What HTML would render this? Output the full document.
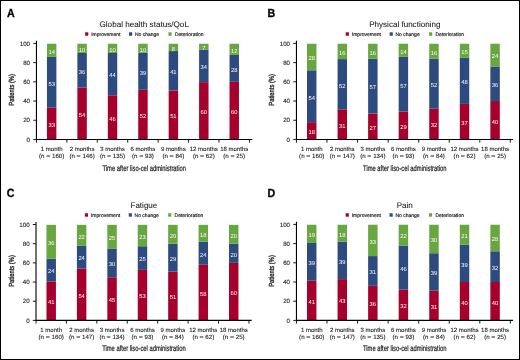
<!DOCTYPE html>
<html><head><meta charset="utf-8"><style>
html,body{margin:0;padding:0;background:#fff;}
body{width:520px;height:360px;overflow:hidden;}
svg{display:block;}
text{font-family:"Liberation Sans",sans-serif;fill:#1a1a1a;text-rendering:geometricPrecision;}
.let{font-size:11.8px;font-weight:bold;fill:#000;stroke:#000;stroke-width:0.3px;}
.ttl{font-size:8.05px;stroke:#1a1a1a;stroke-width:0.08px;}
.leg{font-size:5px;stroke:#1a1a1a;stroke-width:0.16px;}
.val{font-size:5.8px;fill:#fff;}
.xl{font-size:6px;stroke:#1a1a1a;stroke-width:0.1px;}
.xn{font-size:6.15px;}
.yl{font-size:6.2px;stroke:#1a1a1a;stroke-width:0.1px;}
.xt{font-size:8.1px;stroke:#1a1a1a;stroke-width:0.22px;}
.yt{font-size:7.4px;stroke:#1a1a1a;stroke-width:0.3px;}
</style></head><body>
<svg width="520" height="360" viewBox="0 0 520 360">
<rect x="0" y="0" width="520" height="360" fill="#fff"/>
<g style="filter:blur(0.3px)">
<text x="7.10" y="16.70" class="let" textLength="7.7" lengthAdjust="spacingAndGlyphs">A</text>
<text x="144.20" y="26.55" class="ttl" text-anchor="middle" textLength="89.4" lengthAdjust="spacingAndGlyphs">Global health status/QoL</text>
<rect x="85.15" y="32.30" width="3.15" height="3.45" fill="#a6002c"/>
<text x="91.20" y="35.95" class="leg">Improvement</text>
<rect x="129.05" y="32.30" width="3.15" height="3.45" fill="#2e4b7f"/>
<text x="134.90" y="35.95" class="leg">No change</text>
<rect x="168.45" y="32.30" width="3.15" height="3.45" fill="#68a640"/>
<text x="174.90" y="35.95" class="leg">Deterioration</text>
<rect x="46.94" y="107.75" width="9.45" height="31.70" fill="#a6002c"/>
<rect x="46.94" y="56.85" width="9.45" height="50.91" fill="#2e4b7f"/>
<rect x="46.94" y="43.75" width="9.45" height="13.10" fill="#68a640"/>
<text x="51.67" y="126.90" class="val" text-anchor="middle">33</text>
<text x="51.67" y="85.60" class="val" text-anchor="middle">53</text>
<text x="51.67" y="53.60" class="val" text-anchor="middle">14</text>
<text x="51.67" y="150.95" class="xl" text-anchor="middle">1 month</text>
<text x="51.67" y="157.95" class="xl xn" text-anchor="middle">(n <tspan textLength="4.1" lengthAdjust="spacingAndGlyphs">=</tspan> 160)</text>
<rect x="77.37" y="87.58" width="9.45" height="51.87" fill="#a6002c"/>
<rect x="77.37" y="53.00" width="9.45" height="34.58" fill="#2e4b7f"/>
<rect x="77.37" y="43.75" width="9.45" height="9.25" fill="#68a640"/>
<text x="82.09" y="116.82" class="val" text-anchor="middle">54</text>
<text x="82.09" y="73.59" class="val" text-anchor="middle">36</text>
<text x="82.09" y="51.68" class="val" text-anchor="middle">10</text>
<text x="82.09" y="150.95" class="xl" text-anchor="middle">2 months</text>
<text x="82.09" y="157.95" class="xl xn" text-anchor="middle">(n <tspan textLength="4.1" lengthAdjust="spacingAndGlyphs">=</tspan> 146)</text>
<rect x="107.80" y="95.27" width="9.45" height="44.18" fill="#a6002c"/>
<rect x="107.80" y="53.00" width="9.45" height="42.26" fill="#2e4b7f"/>
<rect x="107.80" y="43.75" width="9.45" height="9.25" fill="#68a640"/>
<text x="112.53" y="120.66" class="val" text-anchor="middle">46</text>
<text x="112.53" y="77.44" class="val" text-anchor="middle">44</text>
<text x="112.53" y="51.68" class="val" text-anchor="middle">10</text>
<text x="112.53" y="150.95" class="xl" text-anchor="middle">3 months</text>
<text x="112.53" y="157.95" class="xl xn" text-anchor="middle">(n <tspan textLength="4.1" lengthAdjust="spacingAndGlyphs">=</tspan> 135)</text>
<rect x="138.23" y="89.82" width="9.45" height="49.63" fill="#a6002c"/>
<rect x="138.23" y="52.68" width="9.45" height="37.14" fill="#2e4b7f"/>
<rect x="138.23" y="43.75" width="9.45" height="8.93" fill="#68a640"/>
<text x="142.95" y="117.94" class="val" text-anchor="middle">52</text>
<text x="142.95" y="74.55" class="val" text-anchor="middle">39</text>
<text x="142.95" y="51.52" class="val" text-anchor="middle">10</text>
<text x="142.95" y="150.95" class="xl" text-anchor="middle">6 months</text>
<text x="142.95" y="157.95" class="xl xn" text-anchor="middle">(n <tspan textLength="4.1" lengthAdjust="spacingAndGlyphs">=</tspan> 93)</text>
<rect x="168.66" y="90.46" width="9.45" height="48.99" fill="#a6002c"/>
<rect x="168.66" y="51.08" width="9.45" height="39.38" fill="#2e4b7f"/>
<rect x="168.66" y="43.75" width="9.45" height="7.33" fill="#68a640"/>
<text x="173.38" y="118.26" class="val" text-anchor="middle">51</text>
<text x="173.38" y="74.07" class="val" text-anchor="middle">41</text>
<text x="173.38" y="50.72" class="val" text-anchor="middle">8</text>
<text x="173.38" y="150.95" class="xl" text-anchor="middle">9 months</text>
<text x="173.38" y="157.95" class="xl xn" text-anchor="middle">(n <tspan textLength="4.1" lengthAdjust="spacingAndGlyphs">=</tspan> 84)</text>
<rect x="199.09" y="82.14" width="9.45" height="57.31" fill="#a6002c"/>
<rect x="199.09" y="49.80" width="9.45" height="32.34" fill="#2e4b7f"/>
<rect x="199.09" y="43.75" width="9.45" height="6.05" fill="#68a640"/>
<text x="203.81" y="114.10" class="val" text-anchor="middle">60</text>
<text x="203.81" y="69.27" class="val" text-anchor="middle">34</text>
<text x="203.81" y="50.08" class="val" text-anchor="middle">7</text>
<text x="203.81" y="150.95" class="xl" text-anchor="middle">12 months</text>
<text x="203.81" y="157.95" class="xl xn" text-anchor="middle">(n <tspan textLength="4.1" lengthAdjust="spacingAndGlyphs">=</tspan> 62)</text>
<rect x="229.52" y="81.82" width="9.45" height="57.63" fill="#a6002c"/>
<rect x="229.52" y="54.93" width="9.45" height="26.89" fill="#2e4b7f"/>
<rect x="229.52" y="43.75" width="9.45" height="11.18" fill="#68a640"/>
<text x="234.25" y="113.93" class="val" text-anchor="middle">60</text>
<text x="234.25" y="71.67" class="val" text-anchor="middle">28</text>
<text x="234.25" y="52.64" class="val" text-anchor="middle">12</text>
<text x="234.25" y="150.95" class="xl" text-anchor="middle">18 months</text>
<text x="234.25" y="157.95" class="xl xn" text-anchor="middle">(n <tspan textLength="4.1" lengthAdjust="spacingAndGlyphs">=</tspan> 25)</text>
<path d="M36.45 40.80 V139.95 M35.95 139.45 H252.16" stroke="#000" stroke-width="1.1" fill="none"/>
<text x="30.05" y="141.65" class="yl" text-anchor="end">0</text>
<text x="30.05" y="122.44" class="yl" text-anchor="end">20</text>
<text x="30.05" y="103.23" class="yl" text-anchor="end">40</text>
<text x="30.05" y="84.02" class="yl" text-anchor="end">60</text>
<text x="30.05" y="64.81" class="yl" text-anchor="end">80</text>
<text x="30.05" y="45.60" class="yl" text-anchor="end">100</text>
<path d="M33.25 139.45 H36.45 M33.25 120.24 H36.45 M33.25 101.03 H36.45 M33.25 81.82 H36.45 M33.25 62.61 H36.45 M33.25 43.40 H36.45 M36.45 139.45 V142.65 M66.88 139.45 V142.65 M97.31 139.45 V142.65 M127.74 139.45 V142.65 M158.17 139.45 V142.65 M188.60 139.45 V142.65 M219.03 139.45 V142.65 M249.46 139.45 V142.65" stroke="#000" stroke-width="0.9" fill="none"/>
<text x="144.20" y="170.75" class="xt" text-anchor="middle" textLength="83.5" lengthAdjust="spacingAndGlyphs">Time after liso-cel administration</text>
<text transform="translate(13.70 89.85) rotate(-90)" class="yt" text-anchor="middle" textLength="31.6" lengthAdjust="spacingAndGlyphs">Patients (%)</text>
<text x="267.50" y="16.70" class="let" textLength="7.7" lengthAdjust="spacingAndGlyphs">B</text>
<text x="404.80" y="26.55" class="ttl" text-anchor="middle">Physical functioning</text>
<rect x="345.75" y="32.30" width="3.15" height="3.45" fill="#a6002c"/>
<text x="351.80" y="35.95" class="leg">Improvement</text>
<rect x="389.65" y="32.30" width="3.15" height="3.45" fill="#2e4b7f"/>
<text x="395.50" y="35.95" class="leg">No change</text>
<rect x="429.05" y="32.30" width="3.15" height="3.45" fill="#68a640"/>
<text x="435.50" y="35.95" class="leg">Deterioration</text>
<rect x="307.00" y="122.16" width="9.45" height="17.29" fill="#a6002c"/>
<rect x="307.00" y="70.29" width="9.45" height="51.87" fill="#2e4b7f"/>
<rect x="307.00" y="43.75" width="9.45" height="26.54" fill="#68a640"/>
<text x="311.73" y="134.11" class="val" text-anchor="middle">18</text>
<text x="311.73" y="99.53" class="val" text-anchor="middle">54</text>
<text x="311.73" y="60.32" class="val" text-anchor="middle">28</text>
<text x="311.73" y="150.95" class="xl" text-anchor="middle">1 month</text>
<text x="311.73" y="157.95" class="xl xn" text-anchor="middle">(n <tspan textLength="4.1" lengthAdjust="spacingAndGlyphs">=</tspan> 160)</text>
<rect x="337.56" y="109.35" width="9.45" height="30.10" fill="#a6002c"/>
<rect x="337.56" y="59.09" width="9.45" height="50.27" fill="#2e4b7f"/>
<rect x="337.56" y="43.75" width="9.45" height="15.34" fill="#68a640"/>
<text x="342.29" y="127.70" class="val" text-anchor="middle">31</text>
<text x="342.29" y="87.52" class="val" text-anchor="middle">52</text>
<text x="342.29" y="54.72" class="val" text-anchor="middle">16</text>
<text x="342.29" y="150.95" class="xl" text-anchor="middle">2 months</text>
<text x="342.29" y="157.95" class="xl xn" text-anchor="middle">(n <tspan textLength="4.1" lengthAdjust="spacingAndGlyphs">=</tspan> 147)</text>
<rect x="368.12" y="113.52" width="9.45" height="25.93" fill="#a6002c"/>
<rect x="368.12" y="58.77" width="9.45" height="54.75" fill="#2e4b7f"/>
<rect x="368.12" y="43.75" width="9.45" height="15.02" fill="#68a640"/>
<text x="372.85" y="129.78" class="val" text-anchor="middle">27</text>
<text x="372.85" y="89.44" class="val" text-anchor="middle">57</text>
<text x="372.85" y="54.56" class="val" text-anchor="middle">16</text>
<text x="372.85" y="150.95" class="xl" text-anchor="middle">3 months</text>
<text x="372.85" y="157.95" class="xl xn" text-anchor="middle">(n <tspan textLength="4.1" lengthAdjust="spacingAndGlyphs">=</tspan> 134)</text>
<rect x="398.68" y="111.60" width="9.45" height="27.85" fill="#a6002c"/>
<rect x="398.68" y="56.85" width="9.45" height="54.75" fill="#2e4b7f"/>
<rect x="398.68" y="43.75" width="9.45" height="13.10" fill="#68a640"/>
<text x="403.41" y="128.82" class="val" text-anchor="middle">29</text>
<text x="403.41" y="87.52" class="val" text-anchor="middle">57</text>
<text x="403.41" y="53.60" class="val" text-anchor="middle">14</text>
<text x="403.41" y="150.95" class="xl" text-anchor="middle">6 months</text>
<text x="403.41" y="157.95" class="xl xn" text-anchor="middle">(n <tspan textLength="4.1" lengthAdjust="spacingAndGlyphs">=</tspan> 93)</text>
<rect x="429.24" y="108.71" width="9.45" height="30.74" fill="#a6002c"/>
<rect x="429.24" y="58.77" width="9.45" height="49.95" fill="#2e4b7f"/>
<rect x="429.24" y="43.75" width="9.45" height="15.02" fill="#68a640"/>
<text x="433.97" y="127.38" class="val" text-anchor="middle">32</text>
<text x="433.97" y="87.04" class="val" text-anchor="middle">52</text>
<text x="433.97" y="54.56" class="val" text-anchor="middle">16</text>
<text x="433.97" y="150.95" class="xl" text-anchor="middle">9 months</text>
<text x="433.97" y="157.95" class="xl xn" text-anchor="middle">(n <tspan textLength="4.1" lengthAdjust="spacingAndGlyphs">=</tspan> 84)</text>
<rect x="459.80" y="103.91" width="9.45" height="35.54" fill="#a6002c"/>
<rect x="459.80" y="57.81" width="9.45" height="46.10" fill="#2e4b7f"/>
<rect x="459.80" y="43.75" width="9.45" height="14.06" fill="#68a640"/>
<text x="464.53" y="124.98" class="val" text-anchor="middle">37</text>
<text x="464.53" y="84.16" class="val" text-anchor="middle">48</text>
<text x="464.53" y="54.08" class="val" text-anchor="middle">15</text>
<text x="464.53" y="150.95" class="xl" text-anchor="middle">12 months</text>
<text x="464.53" y="157.95" class="xl xn" text-anchor="middle">(n <tspan textLength="4.1" lengthAdjust="spacingAndGlyphs">=</tspan> 62)</text>
<rect x="490.36" y="101.03" width="9.45" height="38.42" fill="#a6002c"/>
<rect x="490.36" y="66.45" width="9.45" height="34.58" fill="#2e4b7f"/>
<rect x="490.36" y="43.75" width="9.45" height="22.70" fill="#68a640"/>
<text x="495.09" y="123.54" class="val" text-anchor="middle">40</text>
<text x="495.09" y="87.04" class="val" text-anchor="middle">36</text>
<text x="495.09" y="58.40" class="val" text-anchor="middle">24</text>
<text x="495.09" y="150.95" class="xl" text-anchor="middle">18 months</text>
<text x="495.09" y="157.95" class="xl xn" text-anchor="middle">(n <tspan textLength="4.1" lengthAdjust="spacingAndGlyphs">=</tspan> 25)</text>
<path d="M296.45 40.80 V139.95 M295.95 139.45 H513.07" stroke="#000" stroke-width="1.1" fill="none"/>
<text x="290.05" y="141.65" class="yl" text-anchor="end">0</text>
<text x="290.05" y="122.44" class="yl" text-anchor="end">20</text>
<text x="290.05" y="103.23" class="yl" text-anchor="end">40</text>
<text x="290.05" y="84.02" class="yl" text-anchor="end">60</text>
<text x="290.05" y="64.81" class="yl" text-anchor="end">80</text>
<text x="290.05" y="45.60" class="yl" text-anchor="end">100</text>
<path d="M293.25 139.45 H296.45 M293.25 120.24 H296.45 M293.25 101.03 H296.45 M293.25 81.82 H296.45 M293.25 62.61 H296.45 M293.25 43.40 H296.45 M296.45 139.45 V142.65 M327.01 139.45 V142.65 M357.57 139.45 V142.65 M388.13 139.45 V142.65 M418.69 139.45 V142.65 M449.25 139.45 V142.65 M479.81 139.45 V142.65 M510.37 139.45 V142.65" stroke="#000" stroke-width="0.9" fill="none"/>
<text x="404.80" y="170.70" class="xt" text-anchor="middle" textLength="83.5" lengthAdjust="spacingAndGlyphs">Time after liso-cel administration</text>
<text transform="translate(274.30 89.85) rotate(-90)" class="yt" text-anchor="middle" textLength="31.6" lengthAdjust="spacingAndGlyphs">Patients (%)</text>
<text x="6.70" y="197.30" class="let" textLength="7.7" lengthAdjust="spacingAndGlyphs">C</text>
<text x="143.90" y="207.50" class="ttl" text-anchor="middle">Fatigue</text>
<rect x="84.85" y="213.25" width="3.15" height="3.45" fill="#a6002c"/>
<text x="90.90" y="216.90" class="leg">Improvement</text>
<rect x="128.75" y="213.25" width="3.15" height="3.45" fill="#2e4b7f"/>
<text x="134.60" y="216.90" class="leg">No change</text>
<rect x="168.15" y="213.25" width="3.15" height="3.45" fill="#68a640"/>
<text x="174.60" y="216.90" class="leg">Deterioration</text>
<rect x="46.48" y="281.40" width="9.45" height="39.00" fill="#a6002c"/>
<rect x="46.48" y="258.70" width="9.45" height="22.70" fill="#2e4b7f"/>
<rect x="46.48" y="224.85" width="9.45" height="33.85" fill="#68a640"/>
<text x="51.21" y="304.20" class="val" text-anchor="middle">41</text>
<text x="51.21" y="273.35" class="val" text-anchor="middle">24</text>
<text x="51.21" y="245.08" class="val" text-anchor="middle">36</text>
<text x="51.21" y="331.90" class="xl" text-anchor="middle">1 month</text>
<text x="51.21" y="338.90" class="xl xn" text-anchor="middle">(n <tspan textLength="4.1" lengthAdjust="spacingAndGlyphs">=</tspan> 160)</text>
<rect x="76.91" y="268.61" width="9.45" height="51.79" fill="#a6002c"/>
<rect x="76.91" y="245.60" width="9.45" height="23.02" fill="#2e4b7f"/>
<rect x="76.91" y="224.85" width="9.45" height="20.75" fill="#68a640"/>
<text x="81.63" y="297.81" class="val" text-anchor="middle">54</text>
<text x="81.63" y="260.41" class="val" text-anchor="middle">24</text>
<text x="81.63" y="238.52" class="val" text-anchor="middle">22</text>
<text x="81.63" y="331.90" class="xl" text-anchor="middle">2 months</text>
<text x="81.63" y="338.90" class="xl xn" text-anchor="middle">(n <tspan textLength="4.1" lengthAdjust="spacingAndGlyphs">=</tspan> 147)</text>
<rect x="107.33" y="277.25" width="9.45" height="43.15" fill="#a6002c"/>
<rect x="107.33" y="248.47" width="9.45" height="28.77" fill="#2e4b7f"/>
<rect x="107.33" y="224.85" width="9.45" height="23.62" fill="#68a640"/>
<text x="112.05" y="302.12" class="val" text-anchor="middle">45</text>
<text x="112.05" y="266.16" class="val" text-anchor="middle">30</text>
<text x="112.05" y="239.96" class="val" text-anchor="middle">25</text>
<text x="112.05" y="331.90" class="xl" text-anchor="middle">3 months</text>
<text x="112.05" y="338.90" class="xl xn" text-anchor="middle">(n <tspan textLength="4.1" lengthAdjust="spacingAndGlyphs">=</tspan> 134)</text>
<rect x="137.75" y="269.89" width="9.45" height="50.51" fill="#a6002c"/>
<rect x="137.75" y="246.24" width="9.45" height="23.66" fill="#2e4b7f"/>
<rect x="137.75" y="224.85" width="9.45" height="21.39" fill="#68a640"/>
<text x="142.47" y="298.45" class="val" text-anchor="middle">53</text>
<text x="142.47" y="261.36" class="val" text-anchor="middle">25</text>
<text x="142.47" y="238.84" class="val" text-anchor="middle">23</text>
<text x="142.47" y="331.90" class="xl" text-anchor="middle">6 months</text>
<text x="142.47" y="338.90" class="xl xn" text-anchor="middle">(n <tspan textLength="4.1" lengthAdjust="spacingAndGlyphs">=</tspan> 93)</text>
<rect x="168.17" y="271.49" width="9.45" height="48.91" fill="#a6002c"/>
<rect x="168.17" y="243.68" width="9.45" height="27.81" fill="#2e4b7f"/>
<rect x="168.17" y="224.85" width="9.45" height="18.83" fill="#68a640"/>
<text x="172.89" y="299.25" class="val" text-anchor="middle">51</text>
<text x="172.89" y="260.89" class="val" text-anchor="middle">29</text>
<text x="172.89" y="237.56" class="val" text-anchor="middle">20</text>
<text x="172.89" y="331.90" class="xl" text-anchor="middle">9 months</text>
<text x="172.89" y="338.90" class="xl xn" text-anchor="middle">(n <tspan textLength="4.1" lengthAdjust="spacingAndGlyphs">=</tspan> 84)</text>
<rect x="198.59" y="264.78" width="9.45" height="55.62" fill="#a6002c"/>
<rect x="198.59" y="241.76" width="9.45" height="23.02" fill="#2e4b7f"/>
<rect x="198.59" y="224.85" width="9.45" height="16.91" fill="#68a640"/>
<text x="203.31" y="295.89" class="val" text-anchor="middle">58</text>
<text x="203.31" y="256.57" class="val" text-anchor="middle">24</text>
<text x="203.31" y="236.61" class="val" text-anchor="middle">18</text>
<text x="203.31" y="331.90" class="xl" text-anchor="middle">12 months</text>
<text x="203.31" y="338.90" class="xl xn" text-anchor="middle">(n <tspan textLength="4.1" lengthAdjust="spacingAndGlyphs">=</tspan> 62)</text>
<rect x="229.01" y="262.86" width="9.45" height="57.54" fill="#a6002c"/>
<rect x="229.01" y="243.68" width="9.45" height="19.18" fill="#2e4b7f"/>
<rect x="229.01" y="224.85" width="9.45" height="18.83" fill="#68a640"/>
<text x="233.73" y="294.93" class="val" text-anchor="middle">60</text>
<text x="233.73" y="256.57" class="val" text-anchor="middle">20</text>
<text x="233.73" y="237.56" class="val" text-anchor="middle">20</text>
<text x="233.73" y="331.90" class="xl" text-anchor="middle">18 months</text>
<text x="233.73" y="338.90" class="xl xn" text-anchor="middle">(n <tspan textLength="4.1" lengthAdjust="spacingAndGlyphs">=</tspan> 25)</text>
<path d="M36.00 221.90 V320.90 M35.50 320.40 H251.64" stroke="#000" stroke-width="1.1" fill="none"/>
<text x="29.60" y="322.60" class="yl" text-anchor="end">0</text>
<text x="29.60" y="303.42" class="yl" text-anchor="end">20</text>
<text x="29.60" y="284.24" class="yl" text-anchor="end">40</text>
<text x="29.60" y="265.06" class="yl" text-anchor="end">60</text>
<text x="29.60" y="245.88" class="yl" text-anchor="end">80</text>
<text x="29.60" y="226.70" class="yl" text-anchor="end">100</text>
<path d="M32.80 320.40 H36.00 M32.80 301.22 H36.00 M32.80 282.04 H36.00 M32.80 262.86 H36.00 M32.80 243.68 H36.00 M32.80 224.50 H36.00 M36.00 320.40 V323.60 M66.42 320.40 V323.60 M96.84 320.40 V323.60 M127.26 320.40 V323.60 M157.68 320.40 V323.60 M188.10 320.40 V323.60 M218.52 320.40 V323.60 M248.94 320.40 V323.60" stroke="#000" stroke-width="0.9" fill="none"/>
<text x="143.90" y="350.75" class="xt" text-anchor="middle" textLength="83.5" lengthAdjust="spacingAndGlyphs">Time after liso-cel administration</text>
<text transform="translate(13.70 270.95) rotate(-90)" class="yt" text-anchor="middle" textLength="31.6" lengthAdjust="spacingAndGlyphs">Patients (%)</text>
<text x="267.50" y="197.30" class="let" textLength="7.7" lengthAdjust="spacingAndGlyphs">D</text>
<text x="404.70" y="207.50" class="ttl" text-anchor="middle">Pain</text>
<rect x="345.65" y="213.25" width="3.15" height="3.45" fill="#a6002c"/>
<text x="351.70" y="216.90" class="leg">Improvement</text>
<rect x="389.55" y="213.25" width="3.15" height="3.45" fill="#2e4b7f"/>
<text x="395.40" y="216.90" class="leg">No change</text>
<rect x="428.95" y="213.25" width="3.15" height="3.45" fill="#68a640"/>
<text x="435.40" y="216.90" class="leg">Deterioration</text>
<rect x="307.00" y="280.72" width="9.45" height="39.68" fill="#a6002c"/>
<rect x="307.00" y="242.96" width="9.45" height="37.76" fill="#2e4b7f"/>
<rect x="307.00" y="224.75" width="9.45" height="18.21" fill="#68a640"/>
<text x="311.73" y="303.86" class="val" text-anchor="middle">41</text>
<text x="311.73" y="265.14" class="val" text-anchor="middle">39</text>
<text x="311.73" y="237.15" class="val" text-anchor="middle">19</text>
<text x="311.73" y="331.90" class="xl" text-anchor="middle">1 month</text>
<text x="311.73" y="338.90" class="xl xn" text-anchor="middle">(n <tspan textLength="4.1" lengthAdjust="spacingAndGlyphs">=</tspan> 160)</text>
<rect x="337.56" y="279.12" width="9.45" height="41.28" fill="#a6002c"/>
<rect x="337.56" y="241.68" width="9.45" height="37.44" fill="#2e4b7f"/>
<rect x="337.56" y="224.75" width="9.45" height="16.93" fill="#68a640"/>
<text x="342.29" y="303.06" class="val" text-anchor="middle">43</text>
<text x="342.29" y="263.70" class="val" text-anchor="middle">39</text>
<text x="342.29" y="236.51" class="val" text-anchor="middle">18</text>
<text x="342.29" y="331.90" class="xl" text-anchor="middle">2 months</text>
<text x="342.29" y="338.90" class="xl xn" text-anchor="middle">(n <tspan textLength="4.1" lengthAdjust="spacingAndGlyphs">=</tspan> 147)</text>
<rect x="368.12" y="285.84" width="9.45" height="34.56" fill="#a6002c"/>
<rect x="368.12" y="256.08" width="9.45" height="29.76" fill="#2e4b7f"/>
<rect x="368.12" y="224.75" width="9.45" height="31.33" fill="#68a640"/>
<text x="372.85" y="306.42" class="val" text-anchor="middle">36</text>
<text x="372.85" y="274.26" class="val" text-anchor="middle">31</text>
<text x="372.85" y="243.71" class="val" text-anchor="middle">33</text>
<text x="372.85" y="331.90" class="xl" text-anchor="middle">3 months</text>
<text x="372.85" y="338.90" class="xl xn" text-anchor="middle">(n <tspan textLength="4.1" lengthAdjust="spacingAndGlyphs">=</tspan> 135)</text>
<rect x="398.68" y="289.68" width="9.45" height="30.72" fill="#a6002c"/>
<rect x="398.68" y="245.52" width="9.45" height="44.16" fill="#2e4b7f"/>
<rect x="398.68" y="224.75" width="9.45" height="20.77" fill="#68a640"/>
<text x="403.41" y="308.34" class="val" text-anchor="middle">32</text>
<text x="403.41" y="270.90" class="val" text-anchor="middle">46</text>
<text x="403.41" y="238.44" class="val" text-anchor="middle">22</text>
<text x="403.41" y="331.90" class="xl" text-anchor="middle">6 months</text>
<text x="403.41" y="338.90" class="xl xn" text-anchor="middle">(n <tspan textLength="4.1" lengthAdjust="spacingAndGlyphs">=</tspan> 93)</text>
<rect x="429.24" y="290.64" width="9.45" height="29.76" fill="#a6002c"/>
<rect x="429.24" y="253.20" width="9.45" height="37.44" fill="#2e4b7f"/>
<rect x="429.24" y="224.75" width="9.45" height="28.45" fill="#68a640"/>
<text x="433.97" y="308.82" class="val" text-anchor="middle">31</text>
<text x="433.97" y="275.22" class="val" text-anchor="middle">39</text>
<text x="433.97" y="242.27" class="val" text-anchor="middle">30</text>
<text x="433.97" y="331.90" class="xl" text-anchor="middle">9 months</text>
<text x="433.97" y="338.90" class="xl xn" text-anchor="middle">(n <tspan textLength="4.1" lengthAdjust="spacingAndGlyphs">=</tspan> 84)</text>
<rect x="459.80" y="282.00" width="9.45" height="38.40" fill="#a6002c"/>
<rect x="459.80" y="244.56" width="9.45" height="37.44" fill="#2e4b7f"/>
<rect x="459.80" y="224.75" width="9.45" height="19.81" fill="#68a640"/>
<text x="464.53" y="304.50" class="val" text-anchor="middle">40</text>
<text x="464.53" y="266.58" class="val" text-anchor="middle">39</text>
<text x="464.53" y="237.95" class="val" text-anchor="middle">21</text>
<text x="464.53" y="331.90" class="xl" text-anchor="middle">12 months</text>
<text x="464.53" y="338.90" class="xl xn" text-anchor="middle">(n <tspan textLength="4.1" lengthAdjust="spacingAndGlyphs">=</tspan> 62)</text>
<rect x="490.36" y="282.00" width="9.45" height="38.40" fill="#a6002c"/>
<rect x="490.36" y="251.28" width="9.45" height="30.72" fill="#2e4b7f"/>
<rect x="490.36" y="224.75" width="9.45" height="26.53" fill="#68a640"/>
<text x="495.09" y="304.50" class="val" text-anchor="middle">40</text>
<text x="495.09" y="269.94" class="val" text-anchor="middle">32</text>
<text x="495.09" y="241.31" class="val" text-anchor="middle">28</text>
<text x="495.09" y="331.90" class="xl" text-anchor="middle">18 months</text>
<text x="495.09" y="338.90" class="xl xn" text-anchor="middle">(n <tspan textLength="4.1" lengthAdjust="spacingAndGlyphs">=</tspan> 25)</text>
<path d="M296.45 221.80 V320.90 M295.95 320.40 H513.07" stroke="#000" stroke-width="1.1" fill="none"/>
<text x="290.05" y="322.60" class="yl" text-anchor="end">0</text>
<text x="290.05" y="303.40" class="yl" text-anchor="end">20</text>
<text x="290.05" y="284.20" class="yl" text-anchor="end">40</text>
<text x="290.05" y="265.00" class="yl" text-anchor="end">60</text>
<text x="290.05" y="245.80" class="yl" text-anchor="end">80</text>
<text x="290.05" y="226.60" class="yl" text-anchor="end">100</text>
<path d="M293.25 320.40 H296.45 M293.25 301.20 H296.45 M293.25 282.00 H296.45 M293.25 262.80 H296.45 M293.25 243.60 H296.45 M293.25 224.40 H296.45 M296.45 320.40 V323.60 M327.01 320.40 V323.60 M357.57 320.40 V323.60 M388.13 320.40 V323.60 M418.69 320.40 V323.60 M449.25 320.40 V323.60 M479.81 320.40 V323.60 M510.37 320.40 V323.60" stroke="#000" stroke-width="0.9" fill="none"/>
<text x="404.70" y="350.70" class="xt" text-anchor="middle" textLength="83.5" lengthAdjust="spacingAndGlyphs">Time after liso-cel administration</text>
<text transform="translate(274.30 270.95) rotate(-90)" class="yt" text-anchor="middle" textLength="31.6" lengthAdjust="spacingAndGlyphs">Patients (%)</text>
</g>
<rect x="0.5" y="0.5" width="519" height="359" fill="none" stroke="#000" stroke-width="1"/>
</svg>
</body></html>
